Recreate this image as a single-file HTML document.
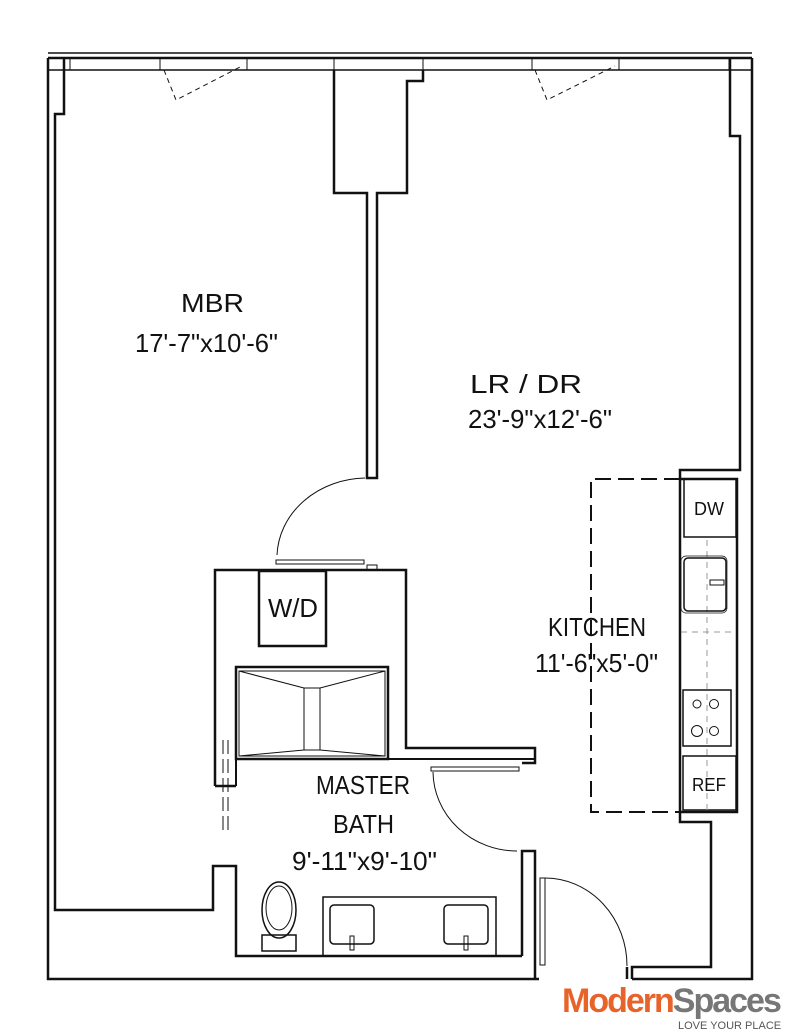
<!DOCTYPE html>
<html><head><style>body{margin:0;background:#fff}svg{display:block}text{font-family:"Liberation Sans",sans-serif;fill:#111}</style></head>
<body>
<svg width="800" height="1035" viewBox="0 0 800 1035" xmlns="http://www.w3.org/2000/svg">
<g fill="none" stroke="#111" stroke-width="2.5">
<line x1="48" y1="53" x2="752" y2="53" stroke-width="1.5"/>
<line x1="48" y1="58" x2="752" y2="58"/>
<line x1="48" y1="70" x2="752" y2="70" stroke-width="1.5"/>
<polyline points="48,58 48,979 539,979"/>
<polyline points="64,58 64,114 55,114 55,910 213,910 213,866 236,866 236,956 522,956"/>
<polyline points="752,58 752,979 632,979"/>
<polyline points="730,58 730,136 740,136 740,470 680,470 680,479"/>
<polyline points="334,70 334,193 367,193 367,478 377,478 377,193 407,193 407,81 423,81 423,70"/>
<polyline points="215,786 215,570 406,570 406,748 535,748 535,763 522,763"/>
<polyline points="236,786 236,759 535,759" stroke-width="2"/>
<line x1="215" y1="786" x2="236" y2="786"/>
<rect x="259" y="571" width="67" height="75"/>
<rect x="236" y="667" width="152" height="92"/>
<polyline points="522,956 522,851 535,851 535,979" stroke-width="2.5"/>
<polyline points="632,979 632,967 711,967 711,822 680,822 680,812"/>
<line x1="627" y1="967" x2="627" y2="979"/>
<polyline points="680,479 680,812 737,812 737,479 680,479"/>
<rect x="684" y="479" width="52" height="58" stroke-width="1.5"/>
<rect x="683" y="690" width="48" height="56" stroke-width="1.5"/>
<rect x="683" y="756" width="53" height="54" stroke-width="1.5"/>
<rect x="323" y="897" width="173" height="59" stroke-width="1.5"/>
</g>
<g fill="none" stroke="#111" stroke-width="1">
<path d="M70,58V70M160,58V70M247,58V70M334,58V70M423,58V70M532,58V70M619,58V70M729,58V70"/>
<path d="M164,70 L176,100 L242,66M535,70 L547,100 L615,66" stroke-dasharray="5,4"/>
<rect x="276" y="560" width="88" height="4"/><rect x="367" y="565" width="10" height="5"/>
<path d="M277,555 A90,80 0 0 1 365,478"/>
<rect x="431" y="767" width="88" height="4"/>
<path d="M433,772 A84,80 0 0 0 517,851"/>
<rect x="540" y="878" width="5" height="87"/>
<path d="M545,878 A82,88 0 0 1 627,966"/>
<path d="M223,740V830M228,740V830" stroke-dasharray="14,5"/>
<rect x="239" y="671" width="146" height="85"/>
<rect x="304" y="688" width="16" height="62"/>
<path d="M239,671L304,688M385,671L320,688M239,756L304,750M385,756L320,750"/>
<path d="M680,479H591V812H680" stroke-width="2" stroke-dasharray="16,7"/>
<path d="M707,540V810M681,632H736" stroke-dasharray="6,5" stroke="#999"/>
<rect x="684" y="558" width="42" height="53" rx="4" stroke-width="1.5"/>
<rect x="681" y="556" width="46" height="57" rx="5" stroke-width=".7"/>
<rect x="710" y="580" width="14" height="5"/>
<circle cx="697" cy="704" r="4"/><circle cx="714" cy="704" r="4.5"/>
<circle cx="697" cy="731" r="5.5"/><circle cx="714" cy="731" r="4.5"/>
<ellipse cx="279" cy="910" rx="17" ry="28" stroke-width="1.5"/>
<ellipse cx="279" cy="908" rx="13" ry="22"/>
<rect x="262" y="935" width="34" height="16" stroke-width="1.5"/>
<rect x="330" y="905" width="44" height="39" rx="4" stroke-width="1.5"/>
<rect x="444" y="905" width="44" height="39" rx="4" stroke-width="1.5"/>
<rect x="350" y="936" width="4" height="14"/><rect x="464" y="936" width="4" height="14"/>
</g>
<g font-size="26" lengthAdjust="spacingAndGlyphs">
<text x="181" y="312" textLength="63" lengthAdjust="spacingAndGlyphs">MBR</text>
<text x="135" y="352" textLength="143" lengthAdjust="spacingAndGlyphs">17'-7"x10'-6"</text>
<text x="470" y="393" textLength="112" lengthAdjust="spacingAndGlyphs">LR / DR</text>
<text x="468" y="428" textLength="144" lengthAdjust="spacingAndGlyphs">23'-9"x12'-6"</text>
<text x="548" y="636" textLength="98" lengthAdjust="spacingAndGlyphs">KITCHEN</text>
<text x="535" y="672" textLength="123" lengthAdjust="spacingAndGlyphs">11'-6"x5'-0"</text>
<text x="316" y="794" textLength="94" lengthAdjust="spacingAndGlyphs">MASTER</text>
<text x="333" y="833" textLength="61" lengthAdjust="spacingAndGlyphs">BATH</text>
<text x="292" y="870" textLength="145" lengthAdjust="spacingAndGlyphs">9'-11"x9'-10"</text>
<text x="268" y="617" textLength="50" lengthAdjust="spacingAndGlyphs">W/D</text>
<text x="694" y="515" font-size="18" textLength="30" lengthAdjust="spacingAndGlyphs">DW</text>
<text x="692" y="791" font-size="18" textLength="34" lengthAdjust="spacingAndGlyphs">REF</text>
</g>
<text x="562" y="1012" font-size="34" font-weight="bold" style="fill:#e8632a;letter-spacing:-2px">Modern<tspan style="fill:#777">Spaces</tspan></text>
<text x="678" y="1029" font-size="11" style="fill:#555">LOVE YOUR PLACE</text>
</svg>
</body></html>
